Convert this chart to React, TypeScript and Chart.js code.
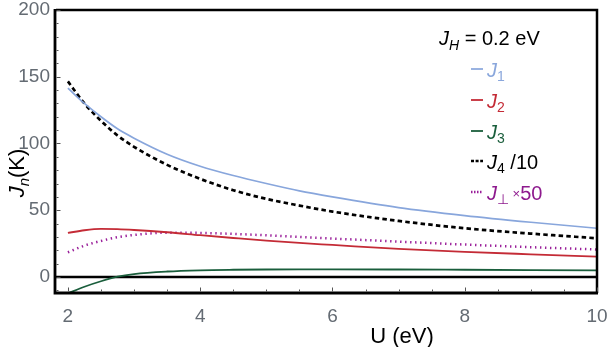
import React, { useEffect, useRef } from "react";
import { Chart, registerables } from "chart.js";

Chart.register(...registerables);

const U = [2, 2.25, 2.5, 2.75, 3, 3.5, 4, 4.5, 5, 5.5, 6, 7, 8, 9, 10];
const J1 = [141.5, 130, 120, 111, 104, 92, 83, 76, 70, 64.5, 60, 52, 46, 41, 36.5];
const J2 = [33, 35, 36, 35.8, 35.2, 33.5, 31.3, 29.2, 27.2, 25.5, 24, 21, 18.8, 17, 15.3];
const J3 = [-12.3, -7.3, -3.2, 0.2, 2.2, 4.1, 5.0, 5.4, 5.6, 5.7, 5.7, 5.6, 5.4, 5.2, 5.0];
const J4_div10 = [146.5, 130, 117, 106, 97.5, 84, 73.5, 65, 58.5, 53.5, 49, 42, 36.5, 32.5, 29];
const Jperp_x50 = [18.5, 23.5, 27, 29.8, 31.5, 33.2, 33, 32.3, 31.2, 30, 28.8, 26.5, 24.3, 22.3, 20.6];

const X_TICKS = [2, 4, 6, 8, 10];
const Y_TICKS = [0, 50, 100, 150, 200];
const X_MIN = 1.82, X_MAX = 10;
const Y_MIN = -12, Y_MAX = 200;

const LEGEND_TITLE = { main: "J", sub: "H", rest: " = 0.2 eV" };
const SERIES = [
  { sub: "1", pre: "", rest: "", color: "#88a6dc", text: "#8aa7dc", data: J1, dash: [] as number[], width: 1.7, sample: [] as number[] },
  { sub: "2", pre: "", rest: "", color: "#c42b36", text: "#c42b36", data: J2, dash: [], width: 1.8, sample: [] },
  { sub: "3", pre: "", rest: "", color: "#1a5e3c", text: "#1a5e3c", data: J3, dash: [], width: 1.8, sample: [] },
  { sub: "4", pre: "", rest: " /10", color: "#000000", text: "#000000", data: J4_div10, dash: [4.5, 3.2], width: 2.7, sample: [3, 1.6] },
  { sub: "\u22A5", pre: " \u00D7", rest: "50", color: "#9a1f9a", text: "#8e1a8e", data: Jperp_x50, dash: [1.4, 3.6], width: 2.5, sample: [1.5, 1.5] },
];

const FONT = "'Liberation Sans', Arial, sans-serif";
const TICK_COLOR = "#646b73";

type Part = { t: string; italic?: boolean; sub?: boolean; size: number; color: string; dy?: number };

function drawRich(ctx: CanvasRenderingContext2D, x: number, y: number, parts: Part[]) {
  let cx = x;
  for (const p of parts) {
    ctx.font = `${p.italic ? "italic " : ""}${p.size}px ${FONT}`;
    ctx.fillStyle = p.color;
    ctx.textBaseline = "alphabetic";
    ctx.textAlign = "left";
    ctx.fillText(p.t, cx, y + (p.sub ? p.size * 0.35 : 0) + (p.dy || 0));
    cx += ctx.measureText(p.t).width;
  }
  return cx - x;
}

function measureRich(ctx: CanvasRenderingContext2D, parts: Part[]) {
  let w = 0;
  for (const p of parts) {
    ctx.font = `${p.italic ? "italic " : ""}${p.size}px ${FONT}`;
    w += ctx.measureText(p.t).width;
  }
  return w;
}

const decorPlugin = {
  id: "decor",
  beforeDatasetsDraw(chart: any) {
    const ctx = chart.ctx as CanvasRenderingContext2D;
    const { left, right } = chart.chartArea;
    const y0 = chart.scales.y.getPixelForValue(0);
    ctx.save();
    ctx.setLineDash([]);
    ctx.strokeStyle = "#000";
    ctx.lineWidth = 2.5;
    ctx.beginPath();
    ctx.moveTo(left, y0);
    ctx.lineTo(right, y0);
    ctx.stroke();
    ctx.restore();
  },
  afterDraw(chart: any) {
    const ctx = chart.ctx as CanvasRenderingContext2D;
    const { left, right, top, bottom } = chart.chartArea;
    const xs = chart.scales.x;
    const ys = chart.scales.y;
    ctx.save();
    ctx.setLineDash([]);
    // frame
    ctx.strokeStyle = "#000";
    ctx.lineWidth = 2.5;
    ctx.beginPath();
    ctx.moveTo(left, top);
    ctx.lineTo(right, top);
    ctx.lineTo(right, bottom);
    ctx.stroke();
    ctx.lineWidth = 2.8;
    ctx.beginPath();
    ctx.moveTo(left - 1, top - 1);
    ctx.lineTo(left - 1, bottom);
    ctx.lineTo(right + 1, bottom);
    ctx.stroke();
    // ticks
    ctx.strokeStyle = "#555";
    ctx.lineWidth = 1;
    ctx.beginPath();
    for (let v = -10; v <= 200; v += 10) {
      const py = Math.round(ys.getPixelForValue(v)) + 0.5;
      const len = v % 50 === 0 ? 4 : 2;
      ctx.moveTo(left + 0.5, py);
      ctx.lineTo(left + 0.5 + len, py);
    }
    for (let u = 2; u <= 10.001; u += 0.5) {
      const px = Math.round(xs.getPixelForValue(u)) + 0.5;
      const len = Math.abs(u - Math.round(u / 2) * 2) < 1e-6 ? 4 : 2;
      ctx.moveTo(px, bottom - 1.5);
      ctx.lineTo(px, bottom - 1.5 - len);
    }
    ctx.stroke();

    // x title
    ctx.font = `22px ${FONT}`;
    ctx.fillStyle = "#000";
    ctx.textAlign = "center";
    ctx.textBaseline = "alphabetic";
    ctx.fillText("U (eV)", 402, 343);

    // y title
    const yParts: Part[] = [
      { t: "J", italic: true, size: 22, color: "#000" },
      { t: "n", italic: true, sub: true, size: 15, color: "#000" },
      { t: "(K)", size: 22, color: "#000" },
    ];
    const yw = measureRich(ctx, yParts);
    ctx.save();
    ctx.translate(24, 173);
    ctx.rotate(-Math.PI / 2);
    drawRich(ctx, -yw / 2, 0, yParts);
    ctx.restore();

    // legend title
    drawRich(ctx, 439, 45, [
      { t: LEGEND_TITLE.main, italic: true, size: 20, color: "#000" },
      { t: LEGEND_TITLE.sub, italic: true, sub: true, size: 14, color: "#000" },
      { t: LEGEND_TITLE.rest, size: 20, color: "#000" },
    ]);

    const rowsY = [69, 100, 131, 161, 192];
    SERIES.forEach((s, i) => {
      const ly = rowsY[i];
      ctx.save();
      ctx.strokeStyle = s.color;
      ctx.lineWidth = s.width;
      ctx.setLineDash(s.sample);
      ctx.beginPath();
      ctx.moveTo(471, ly);
      ctx.lineTo(483, ly);
      ctx.stroke();
      ctx.restore();
      const parts: Part[] = [
        { t: "J", italic: true, size: 20, color: s.text },
        { t: s.sub, sub: true, size: 14, color: s.text },
      ];
      if (s.pre) parts.push({ t: s.pre, size: 13, color: s.text, dy: -2 });
      if (s.rest) parts.push({ t: s.rest, size: 20, color: s.text });
      drawRich(ctx, 487, ly + 7.5, parts);
    });
    ctx.restore();
  },
};

export default function App() {
  const ref = useRef<HTMLCanvasElement>(null);
  useEffect(() => {
    if (!ref.current) return;
    const chart = new Chart(ref.current, {
      type: "line",
      data: {
        datasets: SERIES.map((s) => ({
          label: "J" + s.sub + s.pre + s.rest,
          data: U.map((u, i) => ({ x: u, y: s.data[i] })),
          borderColor: s.color,
          borderWidth: s.width,
          borderDash: s.dash,
          pointRadius: 0,
          fill: false,
          cubicInterpolationMode: "monotone" as const,
        })),
      },
      options: {
        responsive: false,
        animation: false,
        devicePixelRatio: 1,
        layout: { padding: { top: 10, right: 13, left: 0, bottom: 0 } },
        plugins: { legend: { display: false }, tooltip: { enabled: false } },
        scales: {
          x: {
            type: "linear",
            min: X_MIN,
            max: X_MAX,
            afterBuildTicks: (s: any) => { s.ticks = X_TICKS.map((v) => ({ value: v })); },
            afterFit: (s: any) => { s.height = 54; s.paddingLeft = 0; s.paddingRight = 0; },
            grid: { display: false, drawTicks: false },
            border: { display: false },
            ticks: { color: TICK_COLOR, font: { family: FONT, size: 19 }, padding: 12, maxRotation: 0, autoSkip: false },
          },
          y: {
            type: "linear",
            min: Y_MIN,
            max: Y_MAX,
            afterBuildTicks: (s: any) => { s.ticks = Y_TICKS.map((v) => ({ value: v })); },
            afterFit: (s: any) => { s.width = 56; s.paddingTop = 0; s.paddingBottom = 0; },
            grid: { display: false, drawTicks: false },
            border: { display: false },
            ticks: { color: TICK_COLOR, font: { family: FONT, size: 19 }, padding: 6, autoSkip: false },
          },
        },
      },
      plugins: [decorPlugin],
    });
    return () => chart.destroy();
  }, []);
  return (
    <div style={{ position: "absolute", left: 0, top: 0, width: 610, height: 347, background: "#fff" }}>
      <canvas ref={ref} width={610} height={347} style={{ width: 610, height: 347, display: "block" }} />
    </div>
  );
}
